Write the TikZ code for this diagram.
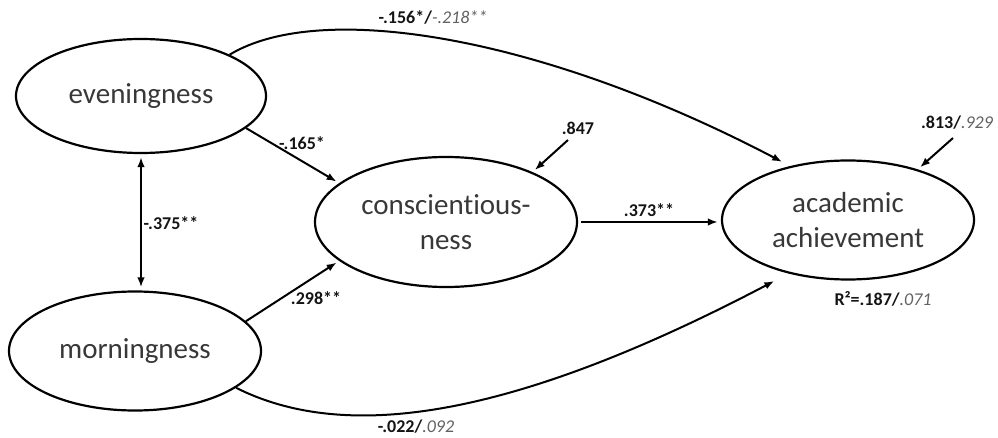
\documentclass[tikz,border=0pt]{standalone}
\usepackage{fontspec}
\setmainfont{Carlito}[Ligatures={NoCommon}]
\usetikzlibrary{shapes.geometric,arrows.meta}
\begin{document}
\begin{tikzpicture}[x=1pt,y=-1pt,
  latent/.style={ellipse,draw=black,line width=2.2pt,inner sep=0pt,align=center,
    font=\fontsize{29}{35}\selectfont,text=black!78},
  tipA/.tip={Latex[length=10pt,width=7.5pt]},
  conn/.style={line width=2pt,-{tipA},shorten >=3pt},
  coef/.style={font=\fontsize{18}{21}\selectfont\bfseries,text=black!92,inner sep=0pt},
]
\newcommand{\itpart}[1]{{\mdseries\itshape\color{black!62}#1}}
\useasboundingbox (0,0) rectangle (998,438);

% latent variables
\node[latent,minimum width=250pt,minimum height=114pt] (ev) at (141,96) {eveningness};
\node[latent,minimum width=252pt,minimum height=119pt] (mo) at (135,351) {morningness};
\node[latent,minimum width=262pt,minimum height=130pt] (co) at (446,222) {conscientious-\\ness};
\node[latent,minimum width=252pt,minimum height=119pt] (ac) at (848,220) {academic\\achievement};

% residual origins
\coordinate (r1) at (568,140);
\coordinate (r2) at (953,138);

% paths
\draw[conn] (ev.-17) -- (co.160);
\draw[conn] (mo.15) -- (co.200);
\draw[line width=2pt,{tipA}-{tipA},shorten >=3pt,shorten <=3pt] (ev.south) -- (ev.south |- mo.north);
\draw[conn,shorten <=3pt] (co.east) -- (co.east -| ac.west);
\draw[conn] (r1) -- (co.30);
\draw[conn] (r2) -- (ac.36);
\draw[conn,shorten >=9pt] (ev.25) .. controls (320,0) and (540,35) .. (ac.137.6);
\draw[conn,shorten >=16pt] (mo.-20) .. controls (340,440) and (500,425) .. (ac.222.4);

% coefficients
\node[coef] (l1) at (433,17) {-.156*/\itpart{-.218**}};
\node[coef] (l2) at (302,143) {-.165*};
\node[coef] (l3) at (171,223) {-.375**};
\node[coef] (l4) at (316,298) {.298**};
\node[coef] (l5) at (649,210) {.373**};
\node[coef] (l6) at (578,128) {.847};
\node[coef] (l7) at (957,123) {.813/\itpart{.929}};
\node[coef] (l8) at (883,299) {R²=.187/\itpart{.071}};
\node[coef] (l9) at (416,427) {-.022/\itpart{.092}};
\end{tikzpicture}
\end{document}
